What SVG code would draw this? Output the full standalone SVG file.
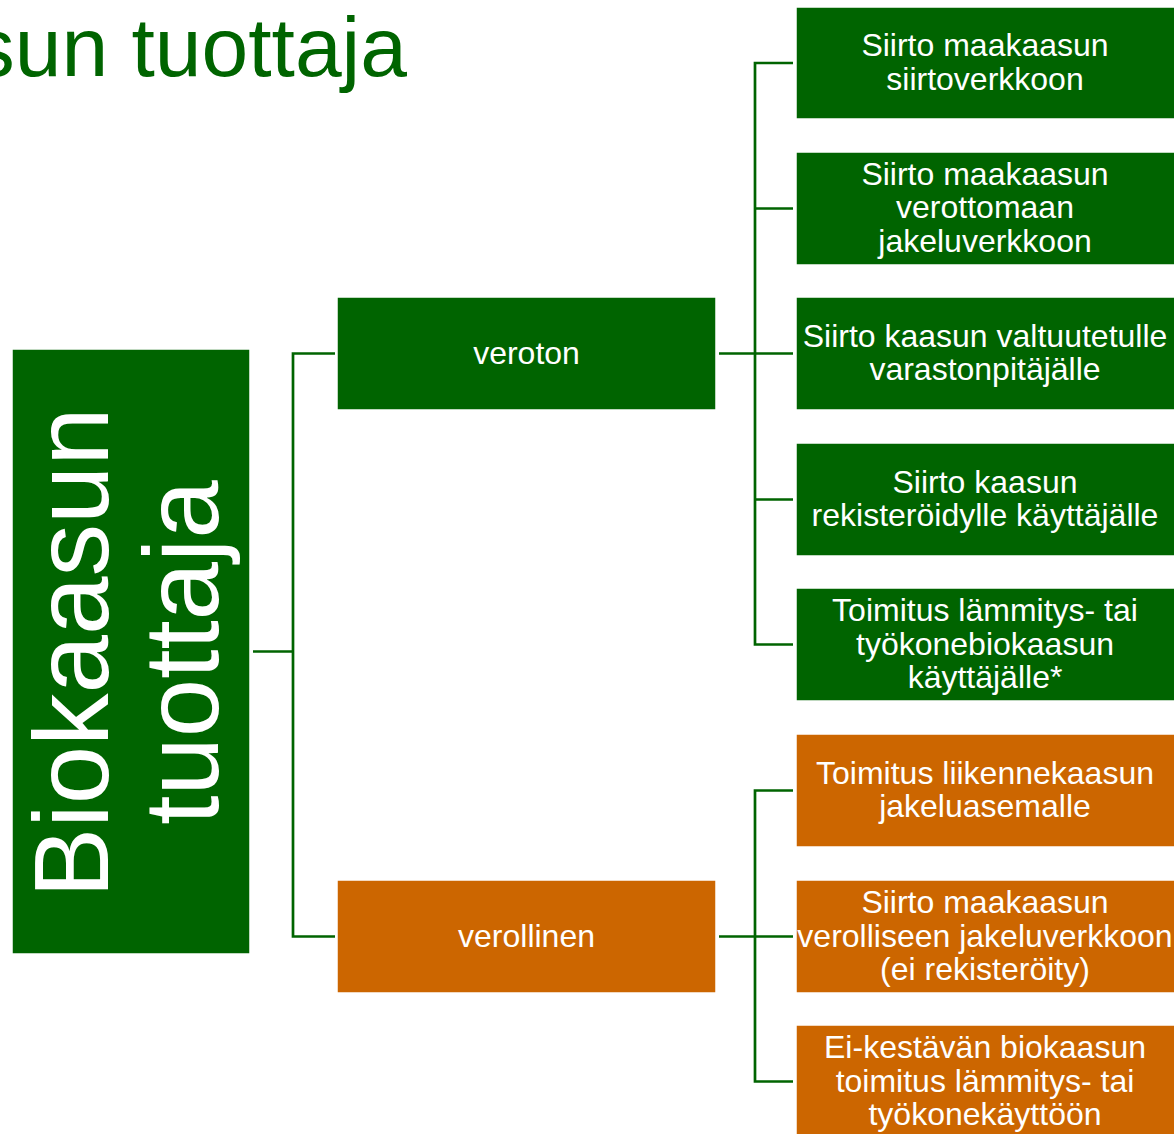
<svg xmlns="http://www.w3.org/2000/svg" width="1174" height="1134" viewBox="0 0 1174 1134">
<style>
text{font-family:"Liberation Sans",Arial,sans-serif;fill:#fff;text-anchor:middle}
.g{fill:#006400;stroke:#fff;stroke-width:1.5}
.o{fill:#CC6600;stroke:#fff;stroke-width:1.5}
.t{font-size:32px}
.c{fill:none;stroke:#006400;stroke-width:2.7}
</style>
<rect width="1174" height="1134" fill="#fff"/>
<text id="title" x="407" y="76" style="font-size:84px;fill:#006400;text-anchor:end">sun tuottaja</text>

<g id="connectors">
<path class="c" d="M253,651.5H293M335,353.5H293V936.5H335"/>
<path class="c" d="M719,353.5H793M793,63H755V644.5H793M755,208.5H793M755,499.5H793"/>
<path class="c" d="M719,936.5H793M793,790.5H755V1081.5H793"/>
</g>

<g id="root">
<rect class="g" x="12" y="349" width="238" height="605"/>
<text transform="translate(108,652.5) rotate(-90)" style="font-size:105px">Biokaasun</text>
<text transform="translate(218,652.5) rotate(-90)" style="font-size:105px">tuottaja</text>
</g>

<g id="veroton">
<rect class="g" x="337" y="297" width="379" height="113"/>
<text class="t" x="526.5" y="364">veroton</text>
</g>
<g id="verollinen">
<rect class="o" x="337" y="880" width="379" height="113"/>
<text class="t" x="526.5" y="947">verollinen</text>
</g>

<g id="n1">
<rect class="g" x="796" y="7" width="380" height="112"/>
<text class="t" x="985" y="56">Siirto maakaasun</text>
<text class="t" x="985" y="89.5">siirtoverkkoon</text>
</g>
<g id="n2">
<rect class="g" x="796" y="152" width="380" height="113"/>
<text class="t" x="985" y="184.5">Siirto maakaasun</text>
<text class="t" x="985" y="218">verottomaan</text>
<text class="t" x="985" y="251.5">jakeluverkkoon</text>
</g>
<g id="n3">
<rect class="g" x="796" y="297" width="380" height="113"/>
<text class="t" x="985" y="346.5">Siirto kaasun valtuutetulle</text>
<text class="t" x="985" y="380">varastonpitäjälle</text>
</g>
<g id="n4">
<rect class="g" x="796" y="443" width="380" height="113"/>
<text class="t" x="985" y="492.5">Siirto kaasun</text>
<text class="t" x="985" y="526">rekisteröidylle käyttäjälle</text>
</g>
<g id="n5">
<rect class="g" x="796" y="588" width="380" height="113"/>
<text class="t" x="985" y="621">Toimitus lämmitys- tai</text>
<text class="t" x="985" y="654.5">työkonebiokaasun</text>
<text class="t" x="985" y="688">käyttäjälle*</text>
</g>
<g id="n6">
<rect class="o" x="796" y="734" width="380" height="113"/>
<text class="t" x="985" y="783.5">Toimitus liikennekaasun</text>
<text class="t" x="985" y="817">jakeluasemalle</text>
</g>
<g id="n7">
<rect class="o" x="796" y="880" width="380" height="113"/>
<text class="t" x="985" y="913">Siirto maakaasun</text>
<text class="t" x="985" y="946.5">verolliseen jakeluverkkoon</text>
<text class="t" x="985" y="980">(ei rekisteröity)</text>
</g>
<g id="n8">
<rect class="o" x="796" y="1025" width="380" height="113"/>
<text class="t" x="985" y="1058">Ei-kestävän biokaasun</text>
<text class="t" x="985" y="1091.5">toimitus lämmitys- tai</text>
<text class="t" x="985" y="1125">työkonekäyttöön</text>
</g>
</svg>
